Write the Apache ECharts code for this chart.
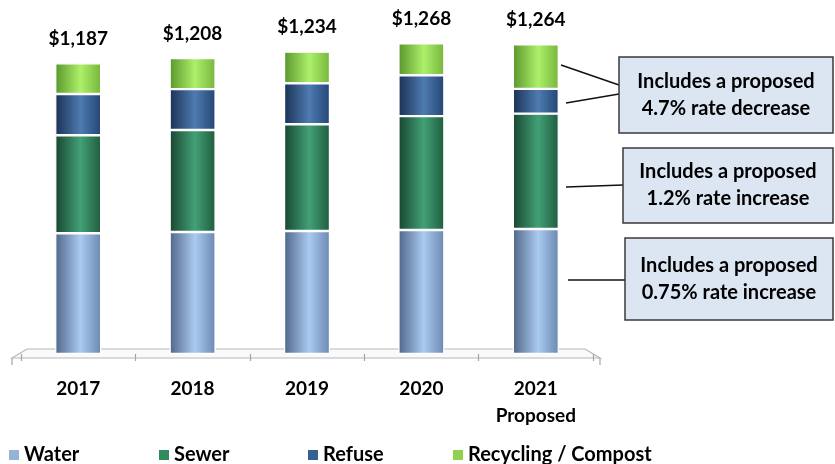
<!DOCTYPE html>
<html>
<head>
<meta charset="utf-8">
<script src="https://cdn.jsdelivr.net/npm/echarts@6/dist/echarts.min.js"></script>
<style>
  html, body { margin: 0; padding: 0; background: #fff; }
  #echart { width: 835px; height: 464px; }
</style>
</head>
<body>
<div id="echart"></div>
<script>
// data
var years = ['2017', '2018', '2019', '2020', '2021\nProposed'];
var water = [493, 498, 502, 506, 510];
var sewer = [400, 416, 436, 465, 471];
var refuse = [168, 167, 167, 167, 101];
var recycling = [126, 127, 129, 130, 182];
var totals = ['$1,187', '$1,208', '$1,234', '$1,268', '$1,264'];
var notes = [
  'Includes a proposed\n4.7% rate decrease',
  'Includes a proposed\n1.2% rate increase',
  'Includes a proposed\n0.75% rate increase'
];

var FONT = 'Lato, "Open Sans", sans-serif';

// cylinder look: dark edges, light middle
function tube(left, mid, right) {
  return {
    type: 'linear', x: 0, y: 0, x2: 1, y2: 0,
    colorStops: [
      { offset: 0, color: left },
      { offset: 0.55, color: mid },
      { offset: 1, color: right }
    ]
  };
}

var names = ['Water', 'Sewer', 'Refuse', 'Recycling / Compost'];
var flat = ['#95b3d7', '#2e8b5e', '#366092', '#92d050'];
var fills = [
  tube('#4f6688', '#abcaf0', '#6a88b0'),
  tube('#184630', '#42a077', '#1f5c3d'),
  tube('#1a3154', '#4e7bb0', '#244575'),
  tube('#5a962c', '#acf06a', '#76b53c')
];
var values = [water, sewer, refuse, recycling];

var series = names.map(function (n, i) {
  var s = {
    name: n,
    type: 'bar',
    stack: 'bill',
    barWidth: 46,
    data: values[i],
    itemStyle: { color: fills[i], borderColor: '#fff', borderWidth: 1.2 }
  };
  if (i === 3) {
    s.label = {
      show: true,
      position: 'top',
      distance: 15,
      fontFamily: FONT,
      fontWeight: 'bold',
      fontSize: 19,
      color: '#000',
      formatter: function (p) { return totals[p.dataIndex]; }
    };
  }
  return s;
});

var legendLeft = [2, 152, 301, 446];
var legends = names.map(function (n, i) {
  return {
    left: legendLeft[i],
    top: 440,
    icon: 'rect',
    itemWidth: 12,
    itemHeight: 12,
    itemGap: 4,
    selectedMode: false,
    textStyle: { fontFamily: FONT, fontWeight: 'bold', fontSize: 20, color: '#000', padding: [0, 0, 0, -1] },
    data: [{ name: n, itemStyle: { color: flat[i] } }]
  };
});

function box(x, y, w, h, txt) {
  return {
    type: 'group',
    children: [
      { type: 'rect', shape: { x: x, y: y, width: w, height: h },
        style: { fill: '#dce6f2', stroke: '#3a3a3a', lineWidth: 1.5 } },
      { type: 'text', x: x + w / 2, y: y + h / 2,
        style: { text: txt, fill: '#000', font: 'bold 20px ' + FONT,
                 align: 'center', verticalAlign: 'middle', lineHeight: 27 } }
    ]
  };
}

function leader(x1, y1, x2, y2) {
  return { type: 'line', shape: { x1: x1, y1: y1, x2: x2, y2: y2 },
           style: { stroke: '#111', lineWidth: 1.5 } };
}

var myChart = echarts.init(document.getElementById('echart'));
myChart.setOption({
  animation: false,
  backgroundColor: '#fff',
  grid: { left: 21, right: 242, top: 11, bottom: 110 },
  legend: legends,
  xAxis: {
    type: 'category',
    data: years,
    offset: 4,
    axisLine: { show: false },
    axisTick: { show: true, length: 7, lineStyle: { color: '#a6a6a6', width: 1.2 } },
    axisLabel: {
      margin: 17,
      fontFamily: FONT,
      fontWeight: 'bold',
      fontSize: 19,
      color: '#000',
      lineHeight: 27
    }
  },
  yAxis: {
    type: 'value',
    min: 0,
    max: 1400,
    show: false,
    splitLine: { show: false }
  },
  series: series,
  graphic: [
    // floor
    { type: 'polygon', z: 0,
      shape: { points: [[12, 358], [27, 349], [585, 349], [600, 358]] },
      style: { fill: '#fafafa', stroke: '#b8b8b8', lineWidth: 1.2 } },
    { type: 'line', shape: { x1: 12, y1: 358, x2: 12, y2: 365 },
      style: { stroke: '#a6a6a6', lineWidth: 1.2 } },
    { type: 'line', shape: { x1: 600, y1: 358, x2: 600, y2: 365 },
      style: { stroke: '#a6a6a6', lineWidth: 1.2 } },
    leader(561, 65, 619, 85),
    leader(566, 103, 619, 94),
    leader(566, 187, 623, 185),
    leader(568, 280, 625, 280),
    box(619, 57, 214, 76, notes[0]),
    box(623, 148, 210, 75, notes[1]),
    box(625, 238, 208, 82, notes[2])
  ]
});
</script>
</body>
</html>
